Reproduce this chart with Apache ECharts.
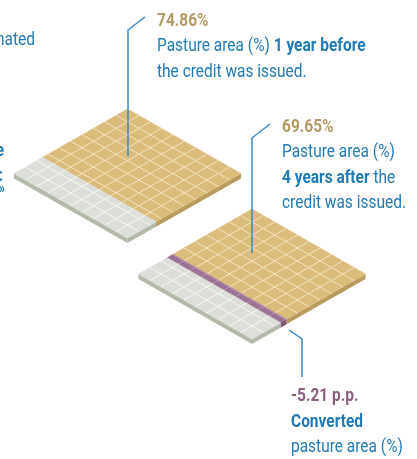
<!DOCTYPE html>
<html><head><meta charset="utf-8">
<script src="https://cdn.jsdelivr.net/npm/echarts@6/dist/echarts.min.js"></script>
<style>html,body{margin:0;padding:0;background:#fff;overflow:hidden}#c{width:417px;height:459px}</style>
</head><body><div id="c"></div>
<script>
// ---- data ----
const waffleNames = ['1 year before', '4 years after'];
const pastureShare = [74.86, 69.65];      // % of area that is pasture
const convertedShare = [0, 5.21];         // % converted (shown in purple)
const convertedPP = -5.21;
const cellsPerSide = 10;

// band kinds: 0 pasture, 1 converted, 2 other
const bandKinds = ['pasture', 'converted', 'other'];

const FONT = 'Roboto, "Noto Sans", sans-serif';
const SX = 0.86; // horizontal condensing of text
const BLUE = '#1f7ab6';
const COLORS = {
  pasture:   {top: '#dcbc7b', side: '#b99b5e', line: '#f3e4c2'},
  converted: {top: '#9c7394', side: '#7b5572', line: '#b895b0'},
  other:     {top: '#dcdfd9', side: '#b4baa8', line: '#f6f7f4'}
};
const THICK = 5;

function buildBands(w) {
  const n = cellsPerSide;
  const past = pastureShare[w] / 100 * n;
  const conv = convertedShare[w] / 100 * n;
  const out = [];
  out.push([0, past, 0]);
  if (conv > 0) out.push([past, past + conv, 1]);
  out.push([past + conv, n, 2]);
  return out;
}

function renderBand(params, api) {
  const n = cellsPerSide;
  const v0 = api.value(0), v1 = api.value(1);
  const kind = bandKinds[api.value(2)];
  const col = COLORS[kind];
  const P = (u, v) => api.coord([u - v, u + v]);
  const down = p => [p[0], p[1] + THICK];
  const children = [];
  const a = P(n, v0), b = P(n, v1);
  children.push({type: 'polygon', shape: {points: [a, b, down(b), down(a)]}, style: {fill: col.side}});
  if (v1 >= n - 1e-9) {
    const c = P(0, n), d = P(n, n);
    children.push({type: 'polygon', shape: {points: [c, d, down(d), down(c)]}, style: {fill: col.side}});
  }
  children.push({type: 'polygon', shape: {points: [P(0, v0), P(n, v0), P(n, v1), P(0, v1)]}, style: {fill: col.top, stroke: col.top, lineWidth: 0.5}});
  for (let k = 1; k < n; k++) {
    const p = P(k, v0), q = P(k, v1);
    children.push({type: 'line', shape: {x1: p[0], y1: p[1], x2: q[0], y2: q[1]}, style: {stroke: col.line, lineWidth: 1}});
  }
  for (let k = Math.ceil(v0 + 1e-9); k < v1 - 1e-9; k++) {
    const p = P(0, k), q = P(n, k);
    children.push({type: 'line', shape: {x1: p[0], y1: p[1], x2: q[0], y2: q[1]}, style: {stroke: col.line, lineWidth: 1}});
  }
  return {type: 'group', children};
}

const chart = echarts.init(document.getElementById('c'), null, {renderer: 'canvas'});

const gridBoxes = [
  {left: 14, top: 109, width: 227, height: 129},
  {left: 138.5, top: 209, width: 227, height: 130}
];

const axisCommon = {show: false, type: 'value'};

function label(x, y, text, rich) {
  return {type: 'text', x, y, scaleX: SX, z: 20, style: {text, x: 0, y: 0, rich}};
}
const lh = 25.5;
const richBase = (titleColor) => ({
  t: {font: 'bold 18px ' + FONT, fill: titleColor, lineHeight: lh},
  n: {font: '18px ' + FONT, fill: BLUE, lineHeight: lh},
  b: {font: 'bold 18px ' + FONT, fill: BLUE, lineHeight: lh}
});
function frag(x, y, text, font) {
  return {type: 'text', x, y, scaleX: SX, style: {text, x: 0, y: 0, align: 'right', verticalAlign: 'bottom', font, fill: BLUE}};
}

const option = {
  animation: false,
  grid: gridBoxes.map(g => Object.assign({containLabel: false}, g)),
  xAxis: gridBoxes.map((g, i) => Object.assign({gridIndex: i, min: -cellsPerSide, max: cellsPerSide}, axisCommon)),
  yAxis: gridBoxes.map((g, i) => Object.assign({gridIndex: i, min: 0, max: 2 * cellsPerSide, inverse: true}, axisCommon)),
  series: waffleNames.map((name, i) => ({
    type: 'custom', name, coordinateSystem: 'cartesian2d',
    xAxisIndex: i, yAxisIndex: i, clip: false, silent: true,
    renderItem: renderBand,
    data: buildBands(i)
  })),
  graphic: [
    {type: 'polyline', shape: {points: [[128, 156], [128, 30], [145, 17]]}, style: {stroke: '#3b8ac4', lineWidth: 1.5, fill: null}, z: 10},
    {type: 'polyline', shape: {points: [[252, 253], [252, 138], [270, 124]]}, style: {stroke: '#3b8ac4', lineWidth: 1.5, fill: null}, z: 10},
    {type: 'polyline', shape: {points: [[289, 330], [302, 339], [302, 377]]}, style: {stroke: '#3b8ac4', lineWidth: 1.5, fill: null}, z: 10},
    frag(35, 49, 'estimated', '18px ' + FONT),
    frag(4, 160, 'e', 'bold 18px ' + FONT),
    frag(3, 185, ':', 'bold 18px ' + FONT),
    frag(5, 196, '»', 'bold 14px ' + FONT),
    label(157, 8.5, '{t|' + pastureShare[0].toFixed(2) + '%}\n{n|Pasture area (%) }{b|1 year before}\n{n|the credit was issued.}', richBase('#b39a63')),
    label(282, 114.5, '{t|' + pastureShare[1].toFixed(2) + '%}\n{n|Pasture area (%)}\n{b|4 years after}{n| the}\n{n|credit was issued.}', richBase('#b39a63')),
    label(291, 384, '{t|' + convertedPP.toFixed(2) + ' p.p.}\n{b|Converted}\n{n|pasture area (%)}', richBase('#8a5d7f'))
  ]
};
chart.setOption(option);
</script>
</body></html>
